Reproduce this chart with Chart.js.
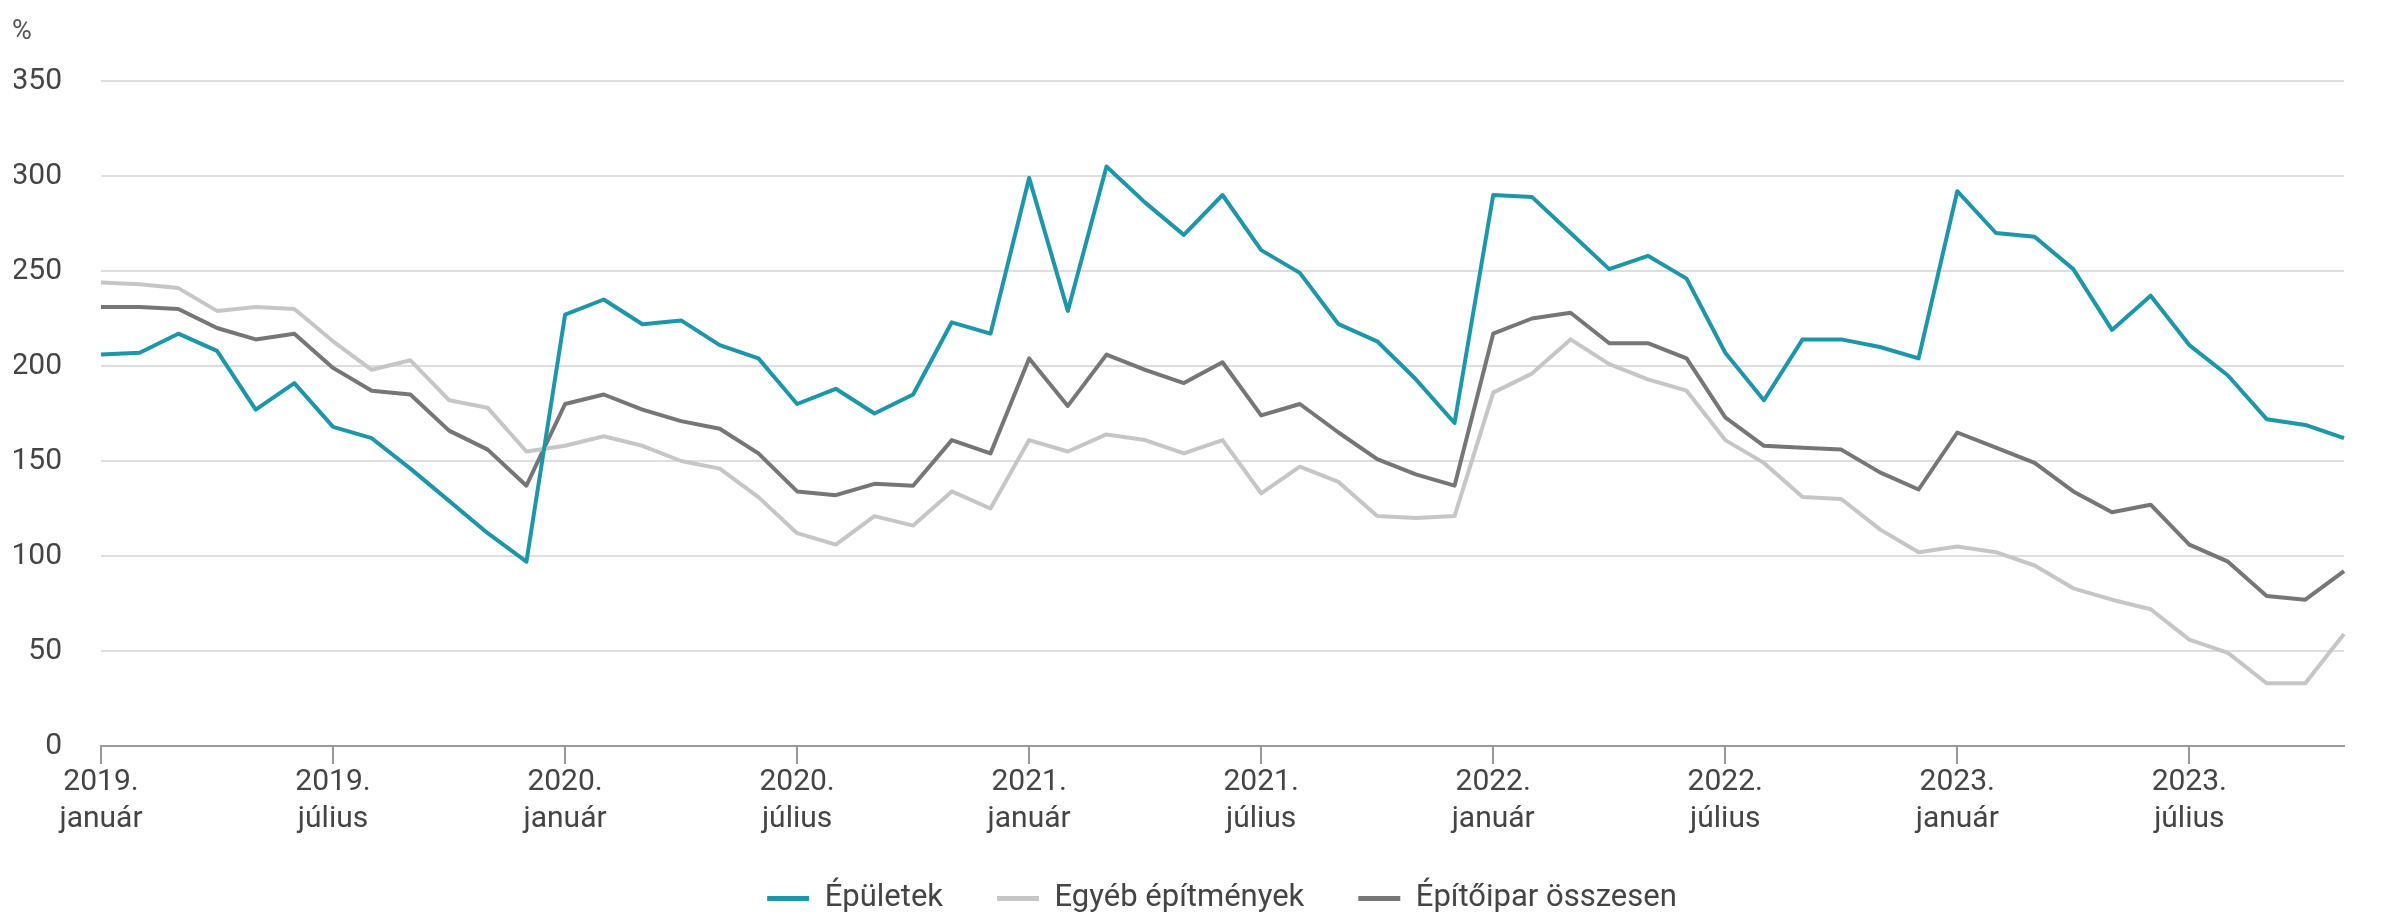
<!DOCTYPE html>
<html lang="hu">
<head>
<meta charset="utf-8">
<script src="https://cdn.jsdelivr.net/npm/chart.js@4/dist/chart.umd.min.js"></script>
<style>
  html, body { margin: 0; padding: 0; background: #fff; }
  #wrap { position: relative; width: 2407px; height: 917px; }
  #unit { position: absolute; left: 12px; top: 14px; font: 27px Roboto, sans-serif; color: #555; }
</style>
</head>
<body>
<div id="wrap">
  <div id="unit">%</div>
  <canvas id="chart"></canvas>
</div>
<script>
const years = [2019, 2020, 2021, 2022, 2023];
const monthNames = ["január", "február", "március", "április", "május", "június",
  "július", "augusztus", "szeptember", "október", "november", "december"];
// 2019. január ... 2023. november
const categories = [];
years.forEach(y => monthNames.forEach(m => categories.push(y + ". " + m)));
categories.length = 59;

const yTicks = [0, 50, 100, 150, 200, 250, 300, 350];

const epuletek = [
  206, 207, 217, 208, 177, 191, 168, 162, 146, 129, 112, 97,
  227, 235, 222, 224, 211, 204, 180, 188, 175, 185, 223, 217,
  299, 229, 305, 286, 269, 290, 261, 249, 222, 213, 193, 170,
  290, 289, 270, 251, 258, 246, 207, 182, 214, 214, 210, 204,
  292, 270, 268, 251, 219, 237, 211, 195, 172, 169, 162
];
const egyeb = [
  244, 243, 241, 229, 231, 230, 213, 198, 203, 182, 178, 155,
  158, 163, 158, 150, 146, 131, 112, 106, 121, 116, 134, 125,
  161, 155, 164, 161, 154, 161, 133, 147, 139, 121, 120, 121,
  186, 196, 214, 201, 193, 187, 161, 149, 131, 130, 114, 102,
  105, 102, 95, 83, 77, 72, 56, 49, 33, 33, 59
];
const osszesen = [
  231, 231, 230, 220, 214, 217, 199, 187, 185, 166, 156, 137,
  180, 185, 177, 171, 167, 154, 134, 132, 138, 137, 161, 154,
  204, 179, 206, 198, 191, 202, 174, 180, 165, 151, 143, 137,
  217, 225, 228, 212, 212, 204, 173, 158, 157, 156, 144, 135,
  165, 157, 149, 134, 123, 127, 106, 97, 79, 77, 92
];

const seriesNames = ["Épületek", "Egyéb építmények", "Építőipar összesen"];
const colors = ["#1b97a9", "#c6c6c6", "#767676"];

const font = "Roboto, sans-serif";

// legend: wide gaps between items, but a short box sitting close to the axis,
// centred under the plot area
const legendFit = {
  id: "legendFit",
  beforeInit(chart) {
    const lg = chart.legend;
    const origFit = lg.fit;
    lg.fit = function () {
      origFit.call(this);
      this.height = 67;
    };
    const origDraw = lg.draw;
    lg.draw = function (area) {
      const t = this.top, l = this.left, r = this.right;
      this.top -= 21;
      this.left += 43;
      this.right += 43;
      origDraw.call(this, area);
      this.top = t; this.left = l; this.right = r;
    };
  }
};

new Chart(document.getElementById("chart"), {
  type: "line",
  data: {
    labels: categories,
    datasets: [epuletek, egyeb, osszesen].map((d, i) => ({
      label: seriesNames[i],
      data: d,
      borderColor: colors[i],
      backgroundColor: colors[i],
      borderWidth: 4,
      pointRadius: 0,
      tension: 0,
      borderJoinStyle: "round",
    })),
  },
  options: {
    responsive: true,
    maintainAspectRatio: false,
    animation: false,
    layout: { padding: { left: 14, right: 63, top: 81, bottom: 0 } },
    plugins: {
      tooltip: { enabled: false },
      legend: {
        position: "bottom",
        labels: {
          font: { family: font, size: 31 },
          color: "#444",
          boxWidth: 42,
          boxHeight: 5,
          padding: 54,
          generateLabels(chart) {
            return Chart.defaults.plugins.legend.labels.generateLabels(chart)
              .map(l => Object.assign(l, { lineWidth: 0 }));
          },
        },
      },
    },
    scales: {
      x: {
        offset: false,
        afterFit: axis => { axis.height = 104; },
        grid: {
          drawOnChartArea: false,
          drawTicks: true,
          tickLength: 18,
          lineWidth: 2,
          color: ctx => (ctx.index % 6 === 0 ? "#999" : "rgba(0,0,0,0)"),
        },
        border: { color: "#9a9a9a", width: 2 },
        ticks: {
          autoSkip: false,
          maxRotation: 0,
          padding: 0,
          color: "#444",
          font: { family: font, size: 30, lineHeight: 1.23 },
          callback: (v, i) => {
            if (i % 6 !== 0) return "";
            const parts = categories[i].split(" ");
            return [parts[0], parts[1]];
          },
        },
      },
      y: {
        min: yTicks[0],
        max: yTicks[yTicks.length - 1],
        afterBuildTicks: axis => { axis.ticks = yTicks.map(v => ({ value: v })); },
        afterFit: axis => { axis.width = 87; },
        grid: { color: "#dedede", lineWidth: 2, drawTicks: false },
        border: { display: false },
        ticks: {
          padding: 39,
          color: "#444",
          font: { family: font, size: 30 },
        },
      },
    },
  },
  plugins: [legendFit],
});
</script>
</body>
</html>
